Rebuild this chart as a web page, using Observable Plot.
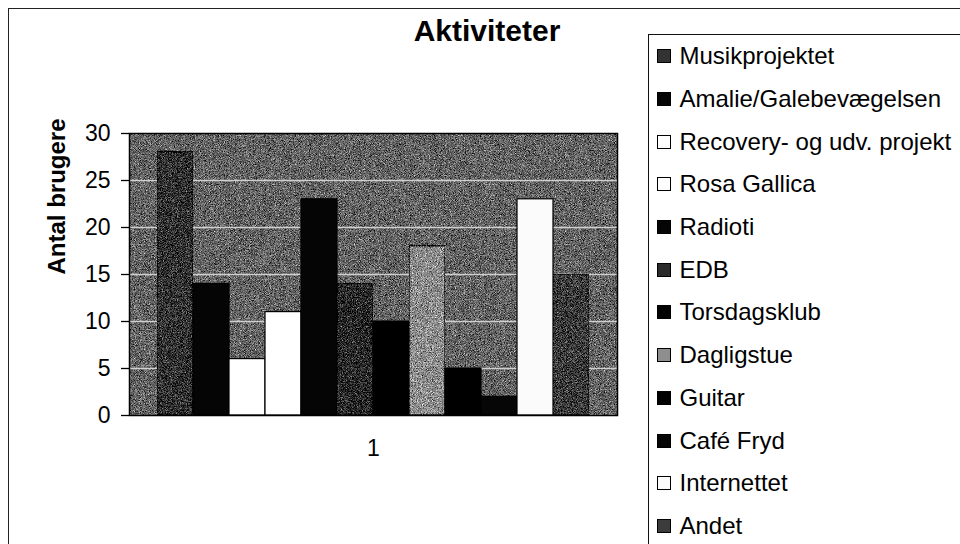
<!DOCTYPE html>
<html>
<head>
<meta charset="utf-8">
<script src="https://cdn.jsdelivr.net/npm/d3@7"></script>
<script src="https://cdn.jsdelivr.net/npm/@observablehq/plot@0.6"></script>
<style>
  html, body { margin: 0; padding: 0; background: #fff; }
  #wrap { position: relative; width: 960px; height: 544px; overflow: hidden; font-family: "Liberation Sans", Arial, sans-serif; color: #000; }
  #outer { position: absolute; left: 8px; top: 8px; width: 970px; height: 560px; border-top: 1.5px solid #222; border-left: 1.5px solid #222; }
  #chart { position: absolute; left: 0; top: 0; }
  #title { position: absolute; left: 387px; top: 15px; width: 200px; text-align: center; font-size: 30px; line-height: 32px; font-weight: bold; }
  #legend { position: absolute; left: 648px; top: 34px; width: 340px; height: 540px; border: 1.5px solid #111; background: #fff; }
  .row { height: 42.7px; display: flex; align-items: center; white-space: nowrap; }
  .sw { box-sizing: border-box; width: 14px; height: 14px; border: 1.5px solid #000; margin-left: 7.5px; flex: none; }
  .lab { margin-left: 9px; font-size: 24px; }
</style>
</head>
<body>
<div id="wrap">
  <div id="outer"></div>
  <div id="chart"></div>
  <div id="title">Aktiviteter</div>
  <div id="legend"></div>
</div>
<script>
// ---- data ----
const activities = [
  "Musikprojektet",
  "Amalie/Galebevægelsen",
  "Recovery- og udv. projekt",
  "Rosa Gallica",
  "Radioti",
  "EDB",
  "Torsdagsklub",
  "Dagligstue",
  "Guitar",
  "Café Fryd",
  "Internettet",
  "Andet"
];
const users = [28, 14, 6, 11, 23, 14, 10, 18, 5, 2, 23, 15];
const categoryLabels = ["1"];
const yTicks = [0, 5, 10, 15, 20, 25, 30];
const yLabel = "Antal brugere";

// ---- styles ----
const palette = ["#333333", "#050505", "#ffffff", "#ffffff", "#050505", "#2a2a2a",
                 "#000000", "#8e8e8e", "#000000", "#060606", "#fbfbfb", "#3c3c3c"];
const grainy = new Set(["#333333", "#2a2a2a", "#8e8e8e", "#3c3c3c"]);

const data = activities.map((name, i) => ({name, users: users[i]}));

const svg = Plot.plot({
  width: 960,
  height: 544,
  marginLeft: 129,
  marginRight: 343,
  marginTop: 133,
  marginBottom: 129,
  style: {fontFamily: "'Liberation Sans', Arial, sans-serif", background: "transparent", overflow: "visible", color: "#000"},
  x: {domain: activities, paddingInner: 0, paddingOuter: 0.75, axis: null},
  y: {domain: [0, 30], axis: null},
  color: {domain: activities, range: palette},
  marks: [
    Plot.frame({fill: "#656565"}),
    Plot.gridY(yTicks.slice(1, -1), {stroke: "#cfcfcf", strokeOpacity: 1, strokeWidth: 1.5}),
    Plot.barY(data, {x: "name", y: "users", fill: "name", stroke: "#000", strokeWidth: 1.2}),
    Plot.frame({stroke: "#000", strokeWidth: 1.5}),
    Plot.axisY(yTicks, {tickSize: 8, tickPadding: 11, fontSize: 23, label: null, stroke: "#000", strokeWidth: 1.3}),
    Plot.text(categoryLabels, {text: d => d, frameAnchor: "bottom", dy: 40, fontSize: 23}),
    Plot.text([yLabel], {text: d => d, frameAnchor: "left", dx: -72, rotate: -90, fontSize: 24, fontWeight: "bold"})
  ]
});

// grain filter to imitate the scanned dither pattern
const defs = d3.select(svg).insert("defs", ":first-child");
defs.html(`
  <filter id="grain" x="0" y="0" width="1" height="1" color-interpolation-filters="sRGB">
    <feTurbulence type="fractalNoise" baseFrequency="1.2" numOctaves="2" seed="7" result="t"/>
    <feColorMatrix in="t" type="matrix" values="0.33 0.33 0.33 0 0  0.33 0.33 0.33 0 0  0.33 0.33 0.33 0 0  0 0 0 0 1" result="g"/>
    <feComposite in="SourceGraphic" in2="g" operator="arithmetic" k1="0" k2="1" k3="2.2" k4="-1.1"/>
  </filter>`);
const frames = svg.querySelectorAll('[aria-label="frame"]');
if (frames.length) {
  const f0 = frames[0].tagName.toLowerCase() === "rect" ? frames[0] : frames[0].querySelector("rect");
  if (f0) f0.setAttribute("filter", "url(#grain)");
}
d3.select(svg).selectAll('[aria-label="bar"] rect').each(function() {
  const f = (this.getAttribute("fill") || "").toLowerCase();
  if (grainy.has(f)) this.setAttribute("filter", "url(#grain)");
});

document.getElementById("chart").appendChild(svg);

// legend
const color = svg.scale("color");
const legend = d3.select("#legend");
activities.forEach(name => {
  const row = legend.append("div").attr("class", "row");
  row.append("div").attr("class", "sw").style("background", color.apply(name));
  row.append("span").attr("class", "lab").text(name);
});
</script>
</body>
</html>
